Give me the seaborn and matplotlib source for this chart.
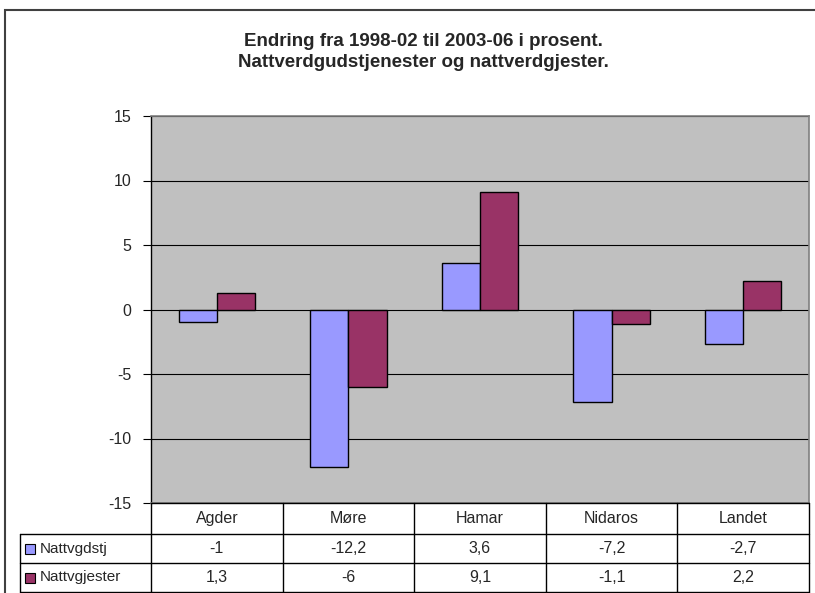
import matplotlib
matplotlib.use("Agg")
import matplotlib.pyplot as plt
import seaborn as sns
import pandas as pd
from matplotlib.lines import Line2D
from matplotlib.patches import Rectangle

categories = ["Agder", "Møre", "Hamar", "Nidaros", "Landet"]
series_names = ["Nattvgdstj", "Nattvgjester"]
nattvgdstj = [-1, -12.2, 3.6, -7.2, -2.7]
nattvgjester = [1.3, -6, 9.1, -1.1, 2.2]
yticks = [-15, -10, -5, 0, 5, 10, 15]
title = "Endring fra 1998-02 til 2003-06 i prosent.\nNattverdgudstjenester og nattverdgjester."
colors = ["#9999FF", "#993366"]

df = pd.DataFrame({
    "cat": categories * 2,
    "series": [series_names[0]] * 5 + [series_names[1]] * 5,
    "val": nattvgdstj + nattvgjester,
})

sns.set_theme(style="white")
plt.rcParams["font.family"] = ["Liberation Sans", "DejaVu Sans"]

W, H = 815, 593
fig = plt.figure(figsize=(W / 100, H / 100), dpi=100)

def fx(x):
    return x / W

def fy(y):
    return 1 - y / H

L, R, T, B = 151, 809, 116, 503
ax = fig.add_axes([fx(L), fy(B), fx(R) - fx(L), fy(T) - fy(B)])
ax.set_facecolor("#C0C0C0")
sns.barplot(data=df, x="cat", y="val", hue="series", palette=colors,
            width=0.58, edgecolor="black", linewidth=1.0, ax=ax,
            legend=False, saturation=1, zorder=3)
ax.set_xlim(-0.5, len(categories) - 0.5)
ax.set_ylim(-15, 15)
ax.set_yticks(yticks)
ax.set_yticklabels([str(t) for t in yticks], fontsize=11.5)
for t in yticks:
    ax.axhline(t, color="black", lw=0.8, zorder=1)
ax.tick_params(axis="y", length=6, width=0.8, color="black", direction="out", pad=8, left=True)
ax.tick_params(axis="x", bottom=False, labelbottom=False)
ax.set_xlabel("")
ax.set_ylabel("")
ax.spines["left"].set_color("black")
ax.spines["left"].set_linewidth(1.0)
for s in ["top", "right", "bottom"]:
    ax.spines[s].set_color("#808080")
    ax.spines[s].set_linewidth(1.2)

# outer frame
fig.patches.append(Rectangle((fx(5), fy(600)), fx(830) - fx(5), fy(10) - fy(600),
                             transform=fig.transFigure, fill=False,
                             edgecolor="#404040", lw=1.5))

fig.text(fx(423), fy(52), title, ha="center", va="center", fontsize=13.5,
         fontweight="bold", linespacing=1.35)

# data table
col_edges = [L + i * (R - L) / len(categories) for i in range(len(categories) + 1)]
rows_y = [503, 534, 563, 592]
lw = 1.0
def hline(y, x0, x1):
    fig.add_artist(Line2D([fx(x0), fx(x1)], [fy(y), fy(y)], color="black", lw=lw,
                          transform=fig.transFigure))
def vline(x, y0, y1):
    fig.add_artist(Line2D([fx(x), fx(x)], [fy(y0), fy(y1)], color="black", lw=lw,
                          transform=fig.transFigure))

hline(rows_y[0], L, R)
for y in rows_y[1:]:
    hline(y, 20, R)
vline(20, rows_y[1], rows_y[3])
for x in col_edges:
    vline(x, rows_y[0], rows_y[3])

fs = 11.5
for i, c in enumerate(categories):
    cx = (col_edges[i] + col_edges[i + 1]) / 2
    fig.text(fx(cx), fy((rows_y[0] + rows_y[1]) / 2), c, ha="center", va="center", fontsize=fs)
    for r, vals in enumerate([nattvgdstj, nattvgjester]):
        s = f"{vals[i]:g}".replace(".", ",")
        fig.text(fx(cx), fy((rows_y[r + 1] + rows_y[r + 2]) / 2), s,
                 ha="center", va="center", fontsize=fs)

for r, name in enumerate(series_names):
    yc = (rows_y[r + 1] + rows_y[r + 2]) / 2
    fig.patches.append(Rectangle((fx(25), fy(yc + 5)), fx(10), fx(10) * W / H,
                                 transform=fig.transFigure, facecolor=colors[r],
                                 edgecolor="black", lw=0.8))
    fig.text(fx(40), fy(yc), name, ha="left", va="center", fontsize=11)

fig.savefig("out.png", dpi=100)
